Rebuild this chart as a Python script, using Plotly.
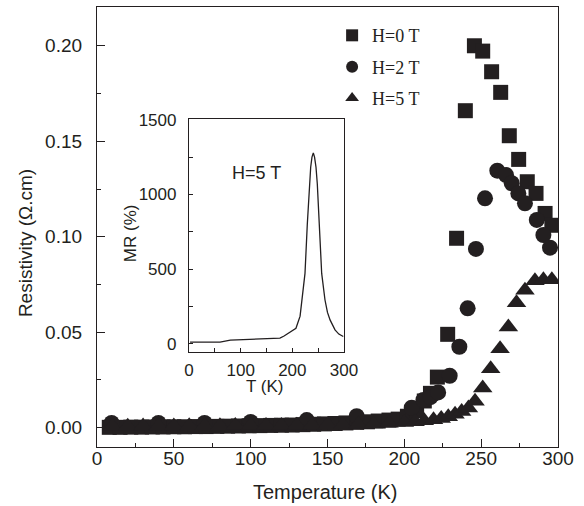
import plotly.graph_objects as go

# ---- data: main panel (resistivity, Ohm.cm) ----
T_H0 = [8, 15, 22, 29, 36, 43, 50, 57, 64, 71, 78, 85, 92, 99, 106, 113, 120, 127, 134, 141,
        148, 155, 162, 169, 176, 183, 190, 196, 202, 208, 213, 217, 221.5, 228.2, 234, 239.7,
        245.6, 251, 256.8, 262.7, 268.3, 274.4, 280, 285.7, 291.6, 296]
R_H0 = [0.0002, 0.0002, 0.0003, 0.0003, 0.0004, 0.0004, 0.0005, 0.0005, 0.0006, 0.0006,
        0.0007, 0.0008, 0.0009, 0.0010, 0.0011, 0.0012, 0.0013, 0.0014, 0.0016, 0.0018,
        0.0020, 0.0022, 0.0025, 0.0028, 0.0031, 0.0035, 0.0040, 0.0045, 0.0060, 0.0090,
        0.0140, 0.0180, 0.0265, 0.0489, 0.0992, 0.1660, 0.2000, 0.1972, 0.1864, 0.1756,
        0.1529, 0.1405, 0.1288, 0.1227, 0.1122, 0.1060]

T_H2 = [9.5, 40, 70, 100, 136.5, 169, 204.8, 212.4, 217, 222, 229.5, 235.8, 241.2, 246.6,
        252.5, 260.5, 266.2, 269.9, 274.2, 278.5, 286.2, 290.5, 294.8]
R_H2 = [0.0025, 0.0025, 0.0025, 0.0030, 0.0040, 0.0060, 0.0105, 0.0145, 0.0160, 0.0185,
        0.0272, 0.0424, 0.0625, 0.0936, 0.1201, 0.1346, 0.1323, 0.1280, 0.1227, 0.1175,
        0.1088, 0.1009, 0.0943]

T_H5 = [10, 20, 30, 40, 50, 60, 70, 80, 90, 100, 110, 120, 130, 140, 150, 160, 170, 180,
        190, 200, 207, 213, 219, 224, 228.6, 233, 237.3, 241.7, 246, 251, 256.2, 262.3,
        267.7, 273, 278.5, 285, 290.5, 296]
R_H5 = [0.0008, 0.0008, 0.0009, 0.0009, 0.0009, 0.0010, 0.0010, 0.0010, 0.0011, 0.0011,
        0.0012, 0.0012, 0.0013, 0.0014, 0.0015, 0.0016, 0.0018, 0.0020, 0.0023, 0.0027,
        0.0031, 0.0036, 0.0042, 0.0048, 0.0058, 0.0070, 0.0085, 0.0103, 0.0138, 0.0208,
        0.0309, 0.0414, 0.0527, 0.0655, 0.0720, 0.0770, 0.0775, 0.0775]

# ---- data: inset (MR %, H=5 T) ----
T_MR = [2, 20, 40, 60, 80, 100, 120, 140, 160, 176, 184, 192, 202, 207, 215, 220, 224.5,
        229, 233, 235.5, 238, 240.6, 243, 245.8, 248.3, 252.2, 256.8, 263.2, 268, 273,
        282.6, 290, 298.6]
MR = [11, 11, 11, 11, 25, 27, 28, 30, 33, 38, 52, 71, 93, 104, 185, 316, 471, 804, 1071,
      1182, 1250, 1278, 1250, 1182, 1071, 804, 471, 293, 210, 160, 93, 65, 49]

series_names = ["H=0 T", "H=2 T", "H=5 T"]
INK = "#231f20"
SANS = "Liberation Sans, Arial, sans-serif"
SERIF = "Liberation Serif, Times New Roman, serif"

fig = go.Figure()
fig.add_trace(go.Scatter(x=T_H0, y=R_H0, mode="markers", name=series_names[0],
                         legendgroup="a",
                         marker=dict(symbol="square", size=15, color=INK, line=dict(width=0))))
fig.add_trace(go.Scatter(x=T_H2, y=R_H2, mode="markers", name=series_names[1],
                         legendgroup="b",
                         marker=dict(symbol="circle", size=16, color=INK, line=dict(width=0))))
fig.add_trace(go.Scatter(x=T_H5, y=R_H5, mode="markers", name=series_names[2],
                         legendgroup="c",
                         marker=dict(symbol="triangle-up", size=17, color=INK, line=dict(width=0))))
fig.add_trace(go.Scatter(x=T_MR, y=MR, mode="lines", showlegend=False,
                         xaxis="x2", yaxis="y2",
                         line=dict(color=INK, width=1.3)))

axis_common = dict(showline=True, linecolor=INK, linewidth=1.3, mirror=True,
                   ticks="inside", tickcolor=INK, showgrid=False, zeroline=False,
                   automargin=False)

fig.update_layout(
    width=584, height=506,
    margin=dict(l=97, r=26, t=7, b=59, pad=0, autoexpand=False),
    paper_bgcolor="white", plot_bgcolor="white",
    font=dict(family=SANS, color=INK),
    xaxis=dict(range=[0, 300], tickvals=[0, 50, 100, 150, 200, 250, 300],
               ticklen=8, tickwidth=1.2, tickfont=dict(size=19), ticklabelstandoff=-6,
               minor=dict(tickvals=[25, 75, 125, 175, 225, 275], ticklen=4,
                          tickcolor=INK, ticks="inside"),
               **axis_common),
    yaxis=dict(range=[-0.0101, 0.2203], tickvals=[0, 0.05, 0.10, 0.15, 0.20],
               tickformat=".2f", ticklen=8, tickwidth=1.2, tickfont=dict(size=19),
               ticklabelstandoff=10,
               minor=dict(tickvals=[0.025, 0.075, 0.125, 0.175], ticklen=4,
                          tickcolor=INK, ticks="inside"),
               **axis_common),
    xaxis2=dict(domain=[0.1996, 0.5358], anchor="y2", range=[0, 300],
                tickvals=[0, 100, 200, 300], ticklen=4, tickwidth=1,
                tickfont=dict(size=17), ticklabelstandoff=2,
                minor=dict(tickvals=[50, 150, 250], ticklen=4, tickcolor=INK, ticks="inside"),
                **axis_common),
    yaxis2=dict(domain=[0.2159, 0.7455], anchor="x2", range=[-55, 1505],
                tickvals=[0, 500, 1000, 1500], ticklen=4, tickwidth=1,
                tickfont=dict(size=17), ticklabelstandoff=8,
                minor=dict(tickvals=[250, 750, 1250], ticklen=4, tickcolor=INK, ticks="inside"),
                **axis_common),
    legend=dict(x=0.51, y=0.977, xanchor="left", yanchor="top",
                font=dict(family=SERIF, size=18, color=INK),
                itemsizing="constant", tracegroupgap=5,
                bgcolor="rgba(0,0,0,0)", borderwidth=0),
    annotations=[
        dict(text="Temperature (K)", xref="paper", yref="paper", x=0.495, y=-0.102,
             xanchor="center", yanchor="middle", showarrow=False, font=dict(size=20)),
        dict(text="Resistivity (\u03a9.cm)", xref="paper", yref="paper", x=-0.156, y=0.4636,
             xanchor="center", yanchor="middle", textangle=-90, showarrow=False,
             font=dict(size=19)),
        dict(text="MR (%)", xref="paper", yref="paper", x=0.0716, y=0.486,
             xanchor="center", yanchor="middle", textangle=-90, showarrow=False,
             font=dict(size=17)),
        dict(text="T (K)", xref="paper", yref="paper", x=0.3644, y=0.1364,
             xanchor="center", yanchor="middle", showarrow=False, font=dict(size=17)),
        dict(text="H=5 T", xref="paper", yref="paper", x=0.345, y=0.6227,
             xanchor="center", yanchor="middle", showarrow=False, font=dict(size=18)),
    ],
)

fig.write_html("out.html", config={"displayModeBar": False},
               post_script="document.body.style.margin='0';document.body.style.overflow='hidden';")
